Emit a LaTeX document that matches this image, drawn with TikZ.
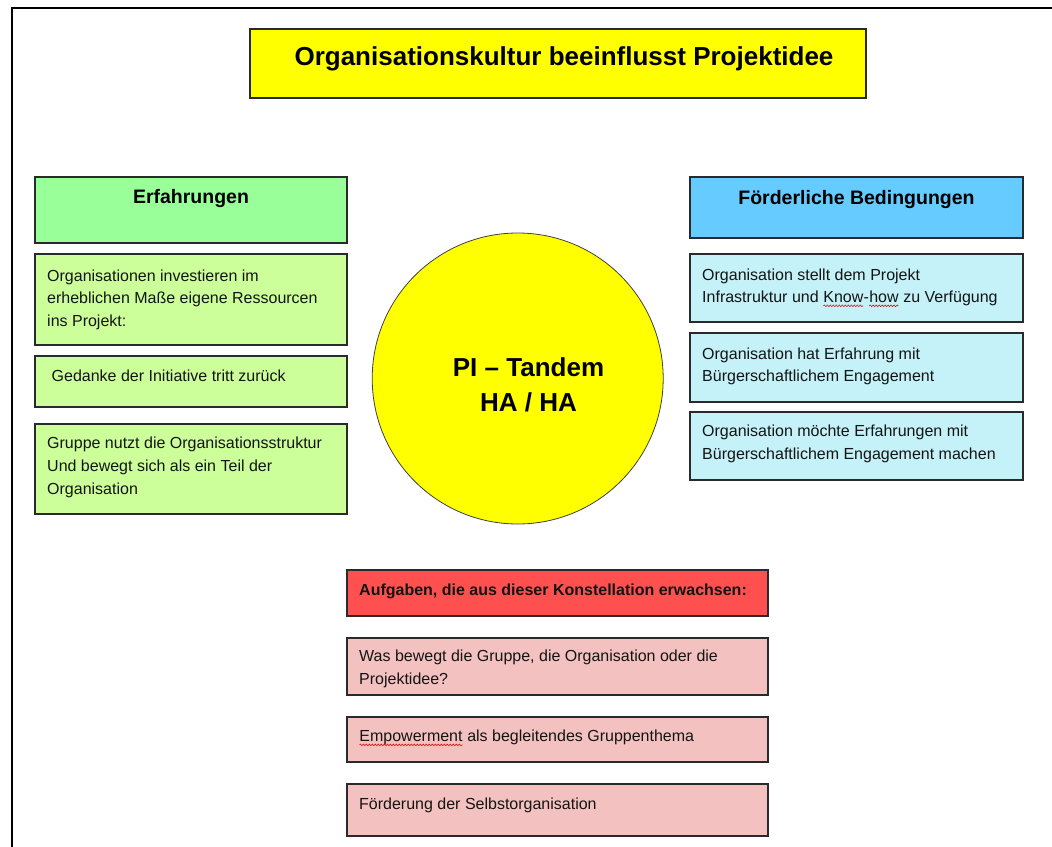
\documentclass[tikz,border=0pt]{standalone}
\usepackage{fontspec}
\setmainfont{Liberation Sans}
\usetikzlibrary{decorations.pathmorphing}

\definecolor{titleyellow}{HTML}{FFFF00}
\definecolor{expHead}{HTML}{99FF99}
\definecolor{expBody}{HTML}{CCFF99}
\definecolor{condHead}{HTML}{66CCFF}
\definecolor{condBody}{HTML}{C4F2F8}
\definecolor{taskHead}{HTML}{FF5050}
\definecolor{taskBody}{HTML}{F3C2C0}
\definecolor{edgegray}{HTML}{2A2A2A}

\newcommand\bodysize{\fontsize{16}{22.7}\selectfont}
% word marked with a wavy red underline
\newcommand\spellmark[1]{\tikz[baseline=(sw.base)]{%
  \node[inner sep=0pt,outer sep=0pt,anchor=base west] (sw) {#1};
  \draw[red!85!black,line width=0.5pt,decorate,
        decoration={snake,amplitude=0.9pt,segment length=3pt}]
    ([yshift=-3pt]sw.base west) -- ([yshift=-3pt]sw.base east);}}

\tikzset{
  box/.style={draw=edgegray, line width=1.1pt, inner sep=0pt, outer sep=0pt,
              anchor=north west},
  bodytext/.style={font=\bodysize, align=left, inner sep=0pt, anchor=north west,
                   text=black!92},
  headtext/.style={font=\fontsize{19.5}{23}\selectfont\bfseries, inner sep=0pt,
                   anchor=base},
}

\begin{document}
\begin{tikzpicture}[x=1pt,y=-1pt]
\useasboundingbox (0,0) rectangle (1052,846);
\clip (0,0) rectangle (1052,846);

% page frame
\draw[line width=2pt] (11.5,860) -- (11.5,8) -- (1070,8);

% title
\node[box, fill=titleyellow, minimum width=616pt, minimum height=69pt] (title) at (250,29) {};
\node[font=\fontsize{26}{30}\selectfont\bfseries, inner sep=0pt, anchor=base] (titletxt)
  at (564,65) {Organisationskultur beeinflusst Projektidee};

% left column: experiences
\node[box, fill=expHead, minimum width=312pt, minimum height=66pt] (exphead) at (35,177) {};
\node[headtext] (expheadtxt) at (191,203) {Erfahrungen};

\node[box, fill=expBody, minimum width=312pt, minimum height=91pt] (exp1) at (35,254) {};
\node[bodytext] (exp1txt) at ([xshift=12pt,yshift=-11pt]exp1.north west)
  {\strut Organisationen investieren im\\erheblichen Maße eigene Ressourcen\\ins Projekt:};

\node[box, fill=expBody, minimum width=312pt, minimum height=51pt] (exp2) at (35,356) {};
\node[bodytext] (exp2txt) at ([xshift=16.5pt,yshift=-9.8pt]exp2.north west)
  {\strut Gedanke der Initiative tritt zurück};

\node[box, fill=expBody, minimum width=312pt, minimum height=90pt] (exp3) at (35,424) {};
\node[bodytext] (exp3txt) at ([xshift=12pt,yshift=-8.6pt]exp3.north west)
  {\strut Gruppe nutzt die Organisationsstruktur\\Und bewegt sich als ein Teil der\\Organisation};

% right column: supporting conditions
\node[box, fill=condHead, minimum width=333pt, minimum height=61pt] (condhead) at (690,177) {};
\node[headtext] (condheadtxt) at (856.5,204) {Förderliche Bedingungen};

\node[box, fill=condBody, minimum width=333pt, minimum height=68pt] (cond1) at (690,254) {};
\node[bodytext] (cond1txt) at ([xshift=12pt,yshift=-10pt]cond1.north west)
  {\strut Organisation stellt dem Projekt\\Infrastruktur und \spellmark{Know}-\spellmark{how} zu Verfügung};

\node[box, fill=condBody, minimum width=333pt, minimum height=69pt] (cond2) at (690,333) {};
\node[bodytext] (cond2txt) at ([xshift=12pt,yshift=-10pt]cond2.north west)
  {\strut Organisation hat Erfahrung mit\\Bürgerschaftlichem Engagement};

\node[box, fill=condBody, minimum width=333pt, minimum height=68pt] (cond3) at (690,412) {};
\node[bodytext] (cond3txt) at ([xshift=12pt,yshift=-8.8pt]cond3.north west)
  {\strut Organisation möchte Erfahrungen mit\\Bürgerschaftlichem Engagement machen};

% centre circle
\node[circle, draw=black!75, line width=0.8pt, fill=titleyellow, minimum size=291pt,
      inner sep=0pt] (tandem) at (517.7,378.5) {};
\node[font=\fontsize{26}{35.7}\selectfont\bfseries, align=center, inner sep=0pt,
      anchor=north] (tandemtxt) at (528.5,351) {\strut PI – Tandem\\HA / HA};

% bottom block: resulting tasks
\node[box, fill=taskHead, minimum width=421pt, minimum height=46pt] (taskhead) at (347,570) {};
\node[bodytext, font=\bodysize\bfseries] (taskheadtxt) at ([xshift=12pt,yshift=-9.1pt]taskhead.north west)
  {\strut Aufgaben, die aus dieser Konstellation erwachsen:};

\node[box, fill=taskBody, minimum width=421pt, minimum height=57pt] (task1) at (347,638) {};
\node[bodytext] (task1txt) at ([xshift=12pt,yshift=-7.8pt]task1.north west)
  {\strut Was bewegt die Gruppe, die Organisation oder die\\Projektidee?};

\node[box, fill=taskBody, minimum width=421pt, minimum height=45pt] (task2) at (347,717) {};
\node[bodytext] (task2txt) at ([xshift=12pt,yshift=-8.8pt]task2.north west)
  {\strut \spellmark{Empowerment} als begleitendes Gruppenthema};

\node[box, fill=taskBody, minimum width=421pt, minimum height=52pt] (task3) at (347,784) {};
\node[bodytext] (task3txt) at ([xshift=12pt,yshift=-9.4pt]task3.north west)
  {\strut Förderung der Selbstorganisation};
\end{tikzpicture}
\end{document}
